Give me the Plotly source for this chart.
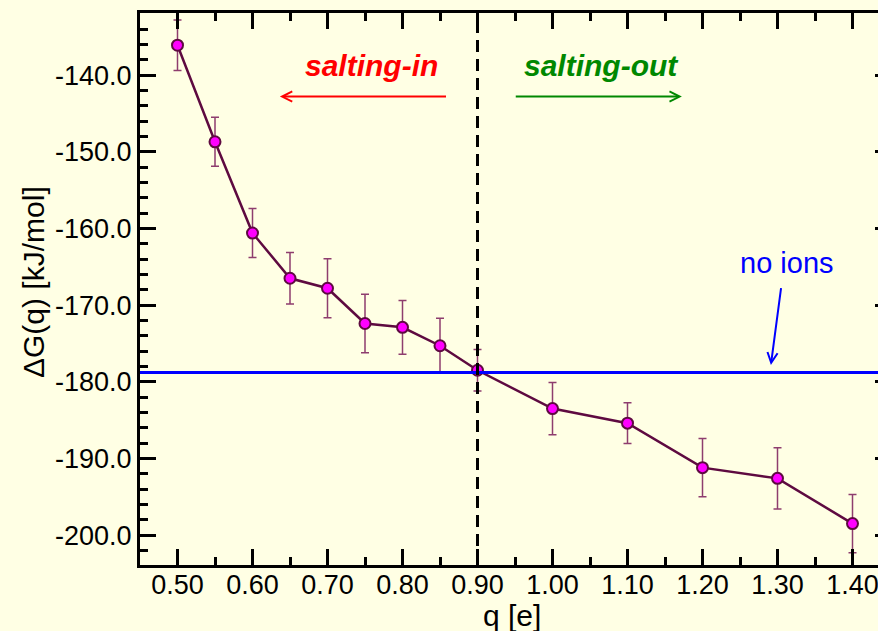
import plotly.graph_objects as go

# Solvation free energy vs. ion charge
q = [0.50, 0.55, 0.60, 0.65, 0.70, 0.75, 0.80, 0.85, 0.90, 1.00, 1.10, 1.20, 1.30, 1.40]
dG = [-136.1, -148.7, -160.6, -166.5, -167.8, -172.4, -172.9, -175.3, -178.5,
      -183.5, -185.4, -191.2, -192.6, -198.5]
dG_err = [3.3, 3.2, 3.2, 3.35, 3.85, 3.8, 3.5, 3.6, 2.7, 3.4, 2.65, 3.8, 4.0, 3.8]

no_ions = -178.8          # reference value without ions
q_split = 0.90            # boundary between salting-in and salting-out

x_ticks = [0.50, 0.60, 0.70, 0.80, 0.90, 1.00, 1.10, 1.20, 1.30, 1.40]
y_ticks = [-200.0, -190.0, -180.0, -170.0, -160.0, -150.0, -140.0]

x_range = [0.45, 1.434]
y_range = [-203.9, -131.9]

FONT = "Liberation Sans, Arial, Helvetica, sans-serif"
BG = "#FFFFE4"

fig = go.Figure()

fig.add_trace(go.Scatter(
    x=q, y=dG,
    mode="lines+markers",
    line=dict(color="#5E0A40", width=2.5),
    marker=dict(size=11, color="#FF00FF", line=dict(color="#5E0A40", width=2)),
    error_y=dict(type="data", array=dG_err, visible=True,
                 color="#8E3D6E", thickness=1.5, width=4),
    showlegend=False,
))

# horizontal "no ions" reference line (on the overlaying right axis)
fig.add_trace(go.Scatter(
    x=x_range, y=[no_ions, no_ions], yaxis="y2",
    mode="lines", line=dict(color="#0000FF", width=3),
    showlegend=False, hoverinfo="skip",
))

fig.add_shape(type="line", xref="x", yref="paper",
              x0=q_split, x1=q_split, y0=0, y1=1,
              line=dict(color="black", width=3, dash="12px,7px"), layer="above")

axis_common = dict(
    showgrid=False, zeroline=False,
    showline=True, linecolor="black", linewidth=3,
    ticks="inside", tickcolor="black", tickwidth=2.5, ticklen=16,
    tickfont=dict(family=FONT, size=27, color="black"),
)

fig.update_layout(
    width=878, height=631,
    margin=dict(l=140, r=0, t=13, b=66),
    paper_bgcolor=BG, plot_bgcolor=BG,
    font=dict(family=FONT, color="black"),
    xaxis=dict(
        **axis_common, range=x_range, mirror="ticks",
        tickmode="array", tickvals=x_ticks,
        ticktext=[f"{v:.2f}" for v in x_ticks],
        ticklabeloverflow="allow", automargin=False,
        ticklabelstandoff=-6,
        minor=dict(ticks="inside", dtick=0.05, tick0=0.45, ticklen=8,
                   tickwidth=2.5, tickcolor="black", showgrid=False),
    ),
    yaxis=dict(
        **axis_common, range=y_range, mirror=False,
        tickmode="array", tickvals=y_ticks,
        ticktext=[f"{v:.1f}" for v in y_ticks],
        automargin=False,
        minor=dict(ticks="inside", dtick=2, tick0=-200, ticklen=8,
                   tickwidth=2.5, tickcolor="black", showgrid=False),
    ),
    yaxis2=dict(
        overlaying="y", side="right", range=y_range,
        showgrid=False, zeroline=False, showline=False,
        ticks="inside", tickcolor="black", tickwidth=2.5, ticklen=3,
        tickmode="array", tickvals=y_ticks, showticklabels=False,
    ),
)

# axis titles
fig.add_annotation(text="ΔG(q) [kJ/mol]", xref="paper", yref="paper",
                   x=(33 - 140) / 738, y=(565 - 282) / 552,
                   xanchor="center", yanchor="middle", textangle=-90,
                   showarrow=False, font=dict(family=FONT, size=30, color="black"))
fig.add_annotation(text="q [e]", xref="x", yref="paper",
                   x=0.9462, y=0.0, yshift=-50,
                   xanchor="center", yanchor="middle",
                   showarrow=False, font=dict(family=FONT, size=30, color="black"))

# region labels and arrows
fig.add_annotation(text="<b><i>salting-in</i></b>", x=0.758, y=-138.7,
                   showarrow=False, font=dict(family=FONT, size=30, color="#FF0000"))
fig.add_annotation(text="<b><i>salting-out</i></b>", x=1.0656, y=-138.7,
                   showarrow=False, font=dict(family=FONT, size=30, color="#008800"))
fig.add_annotation(x=0.6365, y=-142.8, ax=0.86, ay=-142.8, axref="x", ayref="y",
                   text="", showarrow=True, arrowhead=5, arrowsize=1,
                   arrowwidth=2, arrowcolor="#FF0000")
fig.add_annotation(x=1.1725, y=-142.8, ax=0.949, ay=-142.8, axref="x", ayref="y",
                   text="", showarrow=True, arrowhead=5, arrowsize=1,
                   arrowwidth=2, arrowcolor="#008800")

fig.add_annotation(text="no ions", x=1.313, y=-164.5,
                   showarrow=False, font=dict(family=FONT, size=29, color="#0000FF"))
fig.add_annotation(x=1.2912, y=-177.8, ax=1.305, ay=-167.6, axref="x", ayref="y",
                   text="", showarrow=True, arrowhead=5, arrowsize=1,
                   arrowwidth=2, arrowcolor="#0000FF")

fig.write_html("out.html")
